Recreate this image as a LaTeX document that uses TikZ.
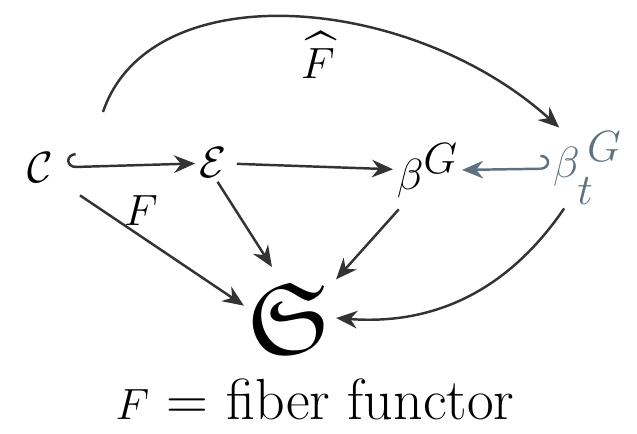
\documentclass[tikz,border=0pt]{standalone}
\usepackage{amssymb}
\usetikzlibrary{arrows.meta}
\definecolor{slate}{RGB}{95,112,128}
\begin{document}
\begin{tikzpicture}[
    obj/.style={font=\fontsize{58}{62}\selectfont, inner sep=2pt},
    lbl/.style={font=\fontsize{32}{36}\selectfont},
    arr/.style={-{Stealth[length=12pt,width=10pt]}, line width=1.4pt, draw=black!80},
    hookarr/.style={arr, {Hooks[right,length=5pt,width=16pt]}-{Stealth[length=12pt,width=10pt]}},
    hookarr'/.style={arr, {Hooks[left,length=5pt,width=16pt]}-{Stealth[length=12pt,width=10pt]}}
]
    \useasboundingbox (0,0) rectangle (12.74,8.66);

    % Objects
    \node[obj] (C) at (0.8,5.3) {$\mathcal{C}$};
    \node[obj] (E) at (4.25,5.4) {$\mathcal{E}$};
    \node[obj] (B) at (8.55,5.25) {$\beta^{G}$};
    \node[obj, text=slate] (Bt) at (11.75,5.3) {$\beta_t^{\,G}$};
    \node[obj] (S) at (5.8,2.3) {$\mathfrak{S}$};

    % Top row
    \draw[hookarr, shorten <=6pt] (C) -- (E);
    \draw[arr, shorten <=4pt] (E) -- (B);
    \draw[hookarr', draw=slate] (Bt) -- (B);

    % Maps down to S
    \draw[arr, shorten <=16pt] (C.-35) -- (S.165) node[lbl, pos=0.45, above=2pt] {$F$};
    \draw[arr, shorten >=8pt] (E.-75) -- (S.105);
    \draw[arr, shorten <=6pt] (B.-125) -- (S.40);
    \draw[arr] (Bt.-120) to[bend left=30] (S.0);

    % Curved map over the top
    \coordinate (top) at (2.06,6.42);
    \draw[arr] (top) .. controls (3.0,9.2) and (8.2,8.8) .. (Bt.125);
    \node[lbl] (Fhat) at (6.36,7.55) {$\widehat{F}$};

    % Caption
    \node[lbl, font=\fontsize{33}{38}\selectfont] (cap) at (6.3,0.68) {$F$ = fiber functor};
\end{tikzpicture}
\end{document}
